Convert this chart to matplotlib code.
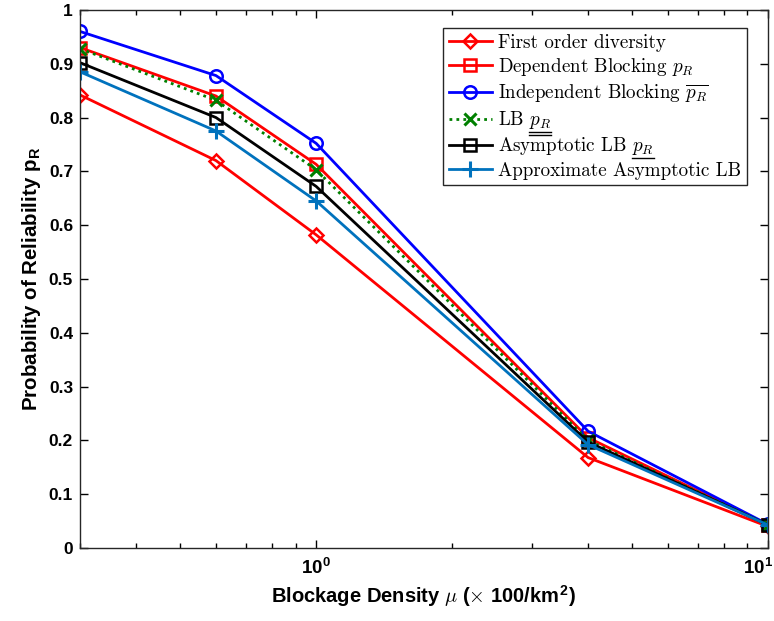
import numpy as np
import matplotlib
matplotlib.use("Agg")
import matplotlib.pyplot as plt
from matplotlib.lines import Line2D
from matplotlib.transforms import IdentityTransform, ScaledTranslation
from matplotlib.ticker import FixedLocator, FixedFormatter

plt.rcParams['mathtext.fontset'] = 'cm'
plt.rcParams['font.family'] = ['Liberation Sans', 'DejaVu Sans']

mu = [0.3, 0.6, 1.0, 4.0, 10.0]
first_order = [0.842, 0.720, 0.582, 0.168, 0.040]
dependent = [0.930, 0.840, 0.713, 0.205, 0.043]
independent = [0.960, 0.878, 0.752, 0.217, 0.044]
lb = [0.928, 0.832, 0.703, 0.200, 0.043]
asym_lb = [0.902, 0.800, 0.672, 0.197, 0.043]
approx_asym = [0.885, 0.775, 0.645, 0.192, 0.043]

labels = ["First order diversity",
          r"Dependent Blocking $p_R$",
          r"Independent Blocking $\overline{p_R}$",
          r"LB $p_R$",
          r"Asymptotic LB $p_R$",
          "Approximate Asymptotic LB"]
yticks = [0, 0.1, 0.2, 0.3, 0.4, 0.5, 0.6, 0.7, 0.8, 0.9, 1]
yticklabels = ["0", "0.1", "0.2", "0.3", "0.4", "0.5", "0.6", "0.7", "0.8", "0.9", "1"]
xticks = [1, 10]
xticklabels = [r"$\mathregular{10^0}$", r"$\mathregular{10^1}$"]

fig = plt.figure(figsize=(7.74, 6.21), dpi=100)
ax = fig.add_axes([0.1034, 0.1176, 0.8886, 0.8664])

lw = 2.0
ms = 9
mew = 1.8
ax.plot(mu, first_order, color='#FF0000', lw=lw, marker='D', ms=7.5, mfc='none', mew=mew, label=labels[0])
ax.plot(mu, dependent, color='#FF0000', lw=lw, marker='s', ms=8, mfc='none', mew=mew, label=labels[1])
ax.plot(mu, independent, color='#0000FF', lw=lw, marker='o', ms=ms, mfc='none', mew=mew, label=labels[2])
ax.plot(mu, lb, color='#008000', lw=lw, ls=(0, (1, 1.5)), marker='x', ms=ms, mew=2.2, label=labels[3])
ax.plot(mu, asym_lb, color='black', lw=lw, marker='s', ms=8, mfc='none', mew=mew, label=labels[4])
ax.plot(mu, approx_asym, color='#0072BD', lw=lw, marker='+', ms=12, mew=2.2, label=labels[5])

ax.set_xscale('log')
ax.set_xlim(0.3, 10)
ax.set_ylim(0, 1)
ax.yaxis.set_major_locator(FixedLocator(yticks))
ax.yaxis.set_major_formatter(FixedFormatter(yticklabels))
ax.xaxis.set_major_locator(FixedLocator(xticks))
ax.xaxis.set_major_formatter(FixedFormatter(xticklabels))

ax.tick_params(which='both', direction='in', top=True, right=True)
ax.tick_params(which='major', length=6, width=1.0, labelsize=12.5, pad=5)
ax.tick_params(axis='x', which='major', labelsize=13.5, pad=7)
ax.tick_params(which='minor', length=3.5, width=1.0)
for lab in ax.get_xticklabels() + ax.get_yticklabels():
    lab.set_fontweight('bold')
for s in ax.spines.values():
    s.set_linewidth(1.0)
    s.set_color('#262626')

ax.set_xlabel(r"Blockage Density $\mu$ ($\times$ 100/km$^\mathregular{2}$)", fontsize=14.5, fontweight='bold', labelpad=4)
ax.set_ylabel(r"Probability of Reliability p$_\mathregular{R}$", fontsize=14.8, fontweight='bold', labelpad=4)

leg = ax.legend(loc='upper right', bbox_to_anchor=(0.9695, 0.9665),
                prop={'family': 'cmr10', 'size': 13.7}, fancybox=False,
                framealpha=1, edgecolor='#262626', handlelength=2.3,
                handletextpad=0.3, borderpad=0.3, labelspacing=0.22,
                borderaxespad=0.0, numpoints=1)
leg.get_frame().set_linewidth(1.0)

fig.canvas.draw()
renderer = fig.canvas.get_renderer()
for tick in ax.xaxis.get_major_ticks():
    if abs(tick.get_loc() - 10) < 1e-9:
        lab = tick.label1
        lab.set_horizontalalignment('right')
        lab.set_transform(lab.get_transform() + ScaledTranslation(5 / 100, 0, fig.dpi_scale_trans))

texts = leg.get_texts()
for idx, nlines in ((3, 2), (4, 1)):
    t = texts[idx]
    bb = t.get_window_extent(renderer)
    w, h, d = renderer.get_text_width_height_descent(r"$p_R$", t.get_fontproperties(), ismath=True)
    x1 = bb.x1
    x0 = x1 - w
    for k in range(nlines):
        y = bb.y0 - 1.0 - 3.0 * k
        fig.add_artist(Line2D([x0, x1], [y, y], transform=IdentityTransform(), color='black', lw=1.0))

fig.savefig("out.png", dpi=100)
